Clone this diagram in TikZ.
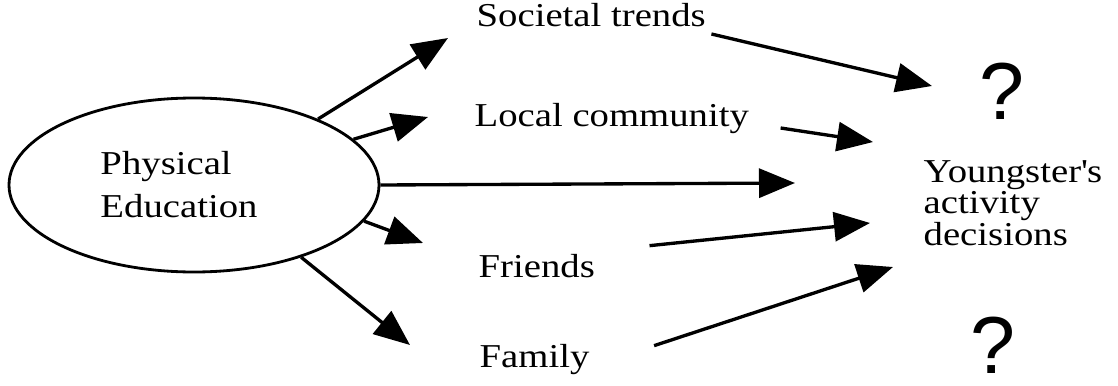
\documentclass[tikz,border=0pt]{standalone}
\usepackage{fontspec}
\setmainfont{Liberation Serif}[FakeStretch=1.16]
\newfontfamily\qfont{Liberation Sans}
\usetikzlibrary{arrows.meta,shapes.geometric}

\begin{document}
\begin{tikzpicture}[->,>={Triangle[length=7.2mm,width=5.8mm]},line width=1.9pt,
  lbl/.style={inner sep=0pt,anchor=base west,font=\fontsize{19}{20}\selectfont},
  qmark/.style={inner sep=0pt,font=\qfont\fontsize{46}{50}\selectfont}]

\useasboundingbox (0,0) rectangle (22.36,7.7);

\node (pe) [draw,line width=1.6pt,ellipse,minimum width=7.4cm,minimum height=3.48cm,inner sep=0pt,
  label={[inner sep=0pt,xshift=-0.3cm,align=left,font=\fontsize{19}{24.5}\selectfont]center:Physical\\Education}]
  at (3.88,4.0) {};

\node (st) [lbl] at (9.50,7.16) {Societal trends};
\node (lc) [lbl] at (9.46,5.16) {Local community};
\node (fr) [lbl] at (9.54,2.16) {Friends};
\node (fa) [lbl] at (9.56,0.36) {Family};

\node (yd) [inner sep=0pt,anchor=west,align=left,font=\fontsize{19}{17.9}\selectfont]
  at (18.44,3.64) {Youngster\textquotesingle s\\activity\\decisions};

\node (q1) [qmark] at (20.04,5.88) {?};
\node (q2) [qmark] at (19.86,0.80) {?};

\coordinate (t1) at (8.96,6.94);
\coordinate (t2) at (8.56,5.36);
\coordinate (t3) at (15.90,4.04);
\coordinate (t4) at (8.46,2.84);
\coordinate (t5) at (8.20,0.80);

\coordinate (y1) at (18.64,5.98);
\coordinate (y2) at (17.46,4.86);
\coordinate (y3) at (17.40,3.24);
\coordinate (y4) at (17.86,2.36);

\draw (pe.28) -- (t1);
\draw (pe.16) -- (t2);
\draw (pe.0) -- (t3);
\draw (pe.-12) -- (t4);
\draw (pe.-34) -- (t5);

\draw ([xshift=0.08cm,yshift=-0.1cm]st.south east) -- (y1);
\draw ([xshift=0.6cm,yshift=-0.02cm]lc.base east) -- (y2);
\draw ([xshift=1.06cm,yshift=0.13cm]fr.north east) -- (y3);
\draw ([xshift=1.26cm,yshift=-0.07cm]fa.north east) -- (y4);

\end{tikzpicture}
\end{document}
